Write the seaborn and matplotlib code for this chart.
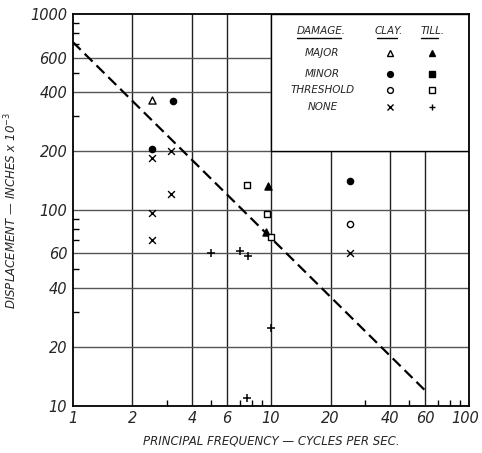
import matplotlib
matplotlib.use("Agg")
import matplotlib.pyplot as plt
import matplotlib.transforms as mtransforms
import seaborn as sns
import pandas as pd
from matplotlib.patches import Rectangle

sns.set_style("white")
plt.rcParams['font.family'] = ['DejaVu Sans']

# ---- data ----
clay_major_f = [2.5]
clay_major_d = [365]
clay_minor_f = [3.2, 2.5, 25]
clay_minor_d = [360, 205, 140]
clay_thresh_f = [25]
clay_thresh_d = [85]
clay_none_f = [2.5, 3.15, 3.15, 2.5, 2.5, 25]
clay_none_d = [185, 200, 120, 97, 70, 60]

till_major_f = [9.7, 9.5]
till_major_d = [132, 77]
till_thresh_f = [7.6, 9.6, 10.0]
till_thresh_d = [134, 95, 73]
till_none_f = [5.0, 7.0, 7.7, 10.0, 7.6]
till_none_d = [60, 62, 58, 25, 11]

line_f = [1, 60]
line_d = [720, 12]

x_ticks = [1, 2, 4, 6, 10, 20, 40, 60, 100]
y_ticks = [10, 20, 40, 60, 100, 200, 400, 600, 1000]
x_grid = [2, 4, 6, 10, 20, 40, 60]
y_grid = [20, 40, 60, 100, 200, 400, 600]
x_minor = [3, 5, 7, 8, 9, 30, 50, 70, 80, 90]
y_minor = [30, 50, 70, 80, 90, 300, 500, 700, 800, 900]

legend_rows = ["MAJOR", "MINOR", "THRESHOLD", "NONE"]
legend_headers = ["DAMAGE.", "CLAY.", "TILL."]

fig = plt.figure(figsize=(4.82, 4.53), dpi=100)
ax = fig.add_axes([0.151, 0.104, 0.822, 0.865])
ax.set_xscale('log')
ax.set_yscale('log')
ax.set_xlim(1, 100)
ax.set_ylim(10, 1000)

for g in x_grid:
    ax.axvline(g, color='#222222', lw=1.0, zorder=1)
for g in y_grid:
    ax.axhline(g, color='#555555', lw=1.0, zorder=1)

# legend box covering the upper right grid
ax.add_patch(Rectangle((10, 200), 90, 800, facecolor='white', edgecolor='black',
                       lw=1.0, zorder=2))

sns.lineplot(x=line_f, y=line_d, ax=ax, color='black', lw=1.6,
             dashes=(5, 2.5), zorder=3)

ms = 26
def pts(f, d, marker, fill, s=ms, lw=1.0):
    df = pd.DataFrame({'f': f, 'd': d})
    if marker in ('x', '+'):
        sns.scatterplot(data=df, x='f', y='d', ax=ax, marker=marker, color='black',
                        s=s, linewidth=lw, zorder=4)
    else:
        sns.scatterplot(data=df, x='f', y='d', ax=ax, marker=marker,
                        facecolor='black' if fill else 'white', edgecolor='black',
                        s=s, linewidth=lw, zorder=4)

pts(clay_major_f, clay_major_d, '^', False)
pts(clay_minor_f, clay_minor_d, 'o', True, s=20)
pts(clay_thresh_f, clay_thresh_d, 'o', False, s=20)
pts(clay_none_f, clay_none_d, 'x', False, s=24)
pts(till_major_f, till_major_d, '^', True)
pts(till_thresh_f, till_thresh_d, 's', False, s=20)
pts(till_none_f, till_none_d, '+', False, s=34, lw=1.1)

ax.set_xticks(x_ticks)
ax.set_xticklabels([str(t) for t in x_ticks])
ax.set_yticks(y_ticks)
ax.set_yticklabels([str(t) for t in y_ticks])
ax.set_xticks(x_minor, minor=True)
ax.set_yticks(y_minor, minor=True)
ax.set_xticklabels([], minor=True)
ax.set_yticklabels([], minor=True)
ax.tick_params(axis='both', which='major', length=0, labelsize=10.5, pad=4,
               bottom=True, left=True)
ax.tick_params(axis='both', which='minor', direction='in', length=4, width=1,
               color='black', bottom=True, left=True)
for lab in ax.get_xticklabels() + ax.get_yticklabels():
    lab.set_fontstyle('italic')
# keep the last x label inside the picture
last = ax.get_xticklabels()[-1]
last.set_transform(last.get_transform() +
                   mtransforms.ScaledTranslation(-4 / 100, 0, fig.dpi_scale_trans))

for sp in ax.spines.values():
    sp.set_color('black')
    sp.set_linewidth(1.3)
    sp.set_zorder(5)

ax.set_xlabel("PRINCIPAL FREQUENCY — CYCLES PER SEC.", fontsize=8.5,
              fontstyle='italic', labelpad=6)
ax.set_ylabel("DISPLACEMENT — INCHES x 10$^{-3}$", fontsize=8.5,
              fontstyle='italic', labelpad=8)

# legend content
tr = ax.transAxes
hdr_y = 0.956
hdr_x = [0.626, 0.798, 0.907]
ul = [(0.566, 0.688), (0.768, 0.830), (0.880, 0.935)]
for txt, xx, (u0, u1) in zip(legend_headers, hdr_x, ul):
    ax.text(xx, hdr_y, txt, transform=tr, ha='center', va='center',
            fontsize=7.5, fontstyle='italic', zorder=6)
    ax.plot([u0, u1 - 0.012], [0.938, 0.938], transform=tr, color='black',
            lw=1.0, zorder=6)
row_y = [0.900, 0.847, 0.806, 0.763]
for name, yy in zip(legend_rows, row_y):
    ax.text(0.630, yy, name, transform=tr, ha='center', va='center',
            fontsize=7.5, fontstyle='italic', zorder=6)
leg_clay = [('^', 'white'), ('o', 'black'), ('o', 'white'), ('x', 'black')]
leg_till = [('^', 'black'), ('s', 'black'), ('s', 'white'), ('+', 'black')]
for (m, fc), yy in zip(leg_clay, row_y):
    ax.plot([0.800], [yy], marker=m, ms=4.2, mfc=fc, mec='black', mew=1.0,
            ls='none', transform=tr, zorder=6, color='black')
for (m, fc), yy in zip(leg_till, row_y):
    ax.plot([0.907], [yy], marker=m, ms=4.2, mfc=fc, mec='black', mew=1.0,
            ls='none', transform=tr, zorder=6, color='black')

fig.savefig("out.png", dpi=100)
